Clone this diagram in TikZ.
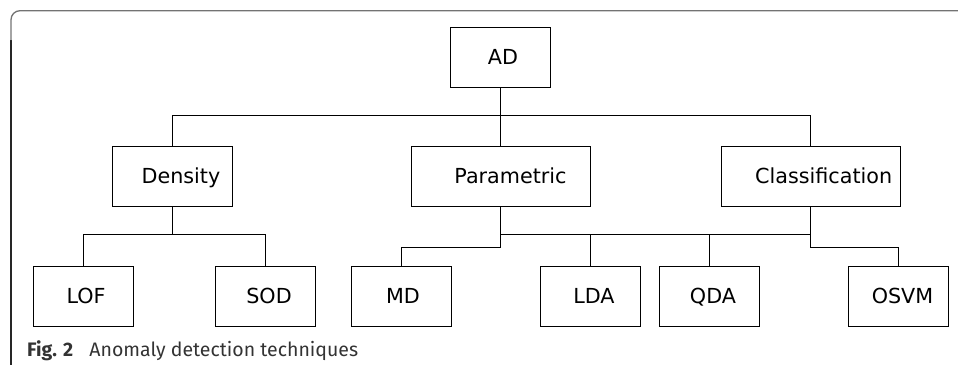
\documentclass[tikz,border=0pt]{standalone}
\usepackage{fontspec}
\setmainfont{DejaVu Sans}
\newfontfamily\capfont{Fira Sans}
\usetikzlibrary{positioning}

\begin{document}
\begin{tikzpicture}[%
      x=1pt, y=-1pt,
      every node/.style={inner sep=0pt, font={\fontsize{20.7}{24}\selectfont},
                         text height=15.1pt, text depth=0pt},
      every path/.style={line width=1pt},
      box/.style={draw, minimum width=100pt, minimum height=60pt},
      midbox/.style={box, minimum height=59.5pt},
      frame/.style={line width=1.3pt, rounded corners=9pt}
    ]
    \useasboundingbox (0,0) rectangle (958,364);
    % frame of the figure
    \draw [frame, black!85] (11,366) -- (11,40);
    \draw [frame, black!55] (11,40) -- (11,10.7) -- (962,10.7);
    % boxes
    \node [box] (AD) at (500.5,57.3) {\hspace*{5pt}AD};
    \node [midbox, minimum width=120pt] (Density) at (172.5,176.3)
     {\hspace*{17pt}Density};
    \node [midbox, minimum width=179pt] (Parametric) at (500.5,176.3)
     {\hspace*{20pt}Parametric};
    \node [midbox, minimum width=179.3pt] (Classification) at (810.7,176.3)
     {\hspace*{26pt}Classification};
    \node [box] (LOF) at (83,296) {\hspace*{6pt}LOF};
    \node [box] (SOD) at (265,296) {\hspace*{8pt}SOD};
    \node [box] (MD) at (401.5,296) {\hspace*{3pt}MD};
    \node [box] (LDA) at (590,296) {\hspace*{8pt}LDA};
    \node [box] (QDA) at (709.5,296) {\hspace*{7pt}QDA};
    \node [box] (OSVM) at (898.5,296) {\hspace*{8pt}OSVM};
    % connectors
    \coordinate (top bus) at (500.5,115.7);
    \coordinate (dens bus) at (172.5,234.7);
    \coordinate (mid bus) at (500.5,234.7);
    \coordinate (param low) at (500.5,247.3);
    \coordinate (class low) at (810.7,247.3);
    \draw (AD.south) -- (Parametric.north);
    \draw (Density.north) |- (top bus) -| (Classification.north);
    \draw (Density.south) -- (dens bus);
    \draw (LOF.north) |- (dens bus) -| (SOD.north);
    \draw (Parametric.south) -- (param low) -| (MD.north);
    \draw (mid bus) -| (Classification.south);
    \draw (LDA.north) -- (LDA.north |- mid bus);
    \draw (QDA.north) -- (QDA.north |- mid bus);
    \draw (Classification.south) -- (class low) -| (OSVM.north);
    % caption
    \node [anchor=base west, text height=, text depth=, text=black!80,
           font={\capfont\fontsize{19.5}{22}\selectfont}] (caption) at (26.7,356)
     {\textbf{Fig. 2}\hspace{11pt} Anomaly detection techniques};
\end{tikzpicture}
\end{document}
